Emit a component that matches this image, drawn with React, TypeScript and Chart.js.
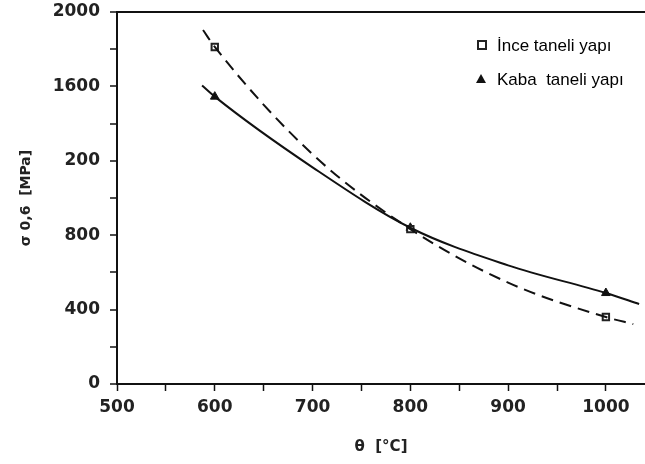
import React, { useEffect, useRef } from "react";
import { Chart, registerables } from "chart.js";

Chart.register(...registerables);

// Measured marker values
const fineX = [600, 800, 1000];
const fineY = [1812, 833, 360];
const coarseX = [600, 800, 1000];
const coarseY = [1545, 840, 489];

// Fitted curves
const fineCurveX = [588, 600, 700, 800, 900, 1000, 1028];
const fineCurveY = [1903, 1812, 1235, 833, 545, 360, 322];
const coarseCurveX = [587, 600, 700, 800, 900, 1000, 1034];
const coarseCurveY = [1605, 1545, 1165, 840, 638, 489, 430];

const yTickValues = [0, 400, 800, 1200, 1600, 2000];
const yTickLabels = ["0", "400", "800", "200", "1600", "2000"];
const xTickValues = [500, 600, 700, 800, 900, 1000];
const xTickLabels = ["500", "600", "700", "800", "900", "1000"];

const legendLabels = ["İnce taneli yapı", "Kaba  taneli yapı"];
const xTitle = "θ  [°C]";
const yTitle = "σ 0,6  [MPa]";

const toPts = (xs: number[], ys: number[]) => xs.map((x, i) => ({ x, y: ys[i] }));

export default function App() {
  const ref = useRef<HTMLCanvasElement | null>(null);

  useEffect(() => {
    document.body.style.margin = "0";
    const canvas = ref.current;
    if (!canvas) return;
    const ink = "#111";

    const legendPlugin = {
      id: "insideLegend",
      afterDatasetsDraw(chart: any) {
        const ctx = chart.ctx;
        ctx.save();
        ctx.fillStyle = "#fff";
        ctx.strokeStyle = "#222";
        ctx.lineWidth = 2;
        ctx.fillRect(478, 41, 8, 8);
        ctx.strokeRect(478, 41, 8, 8);
        ctx.fillStyle = "#111";
        ctx.beginPath();
        ctx.moveTo(481, 74);
        ctx.lineTo(486, 83);
        ctx.lineTo(476, 83);
        ctx.closePath();
        ctx.fill();
        ctx.fillStyle = "#000";
        ctx.font = "17px 'Liberation Sans', Arial, sans-serif";
        ctx.textBaseline = "middle";
        ctx.textAlign = "left";
        ctx.fillText(legendLabels[0], 497, 46);
        ctx.fillText(legendLabels[1], 497, 80);
        ctx.restore();
      },
    };

    const chart = new Chart(canvas, {
      type: "scatter",
      data: {
        datasets: [
          {
            label: legendLabels[0] + " curve",
            data: toPts(fineCurveX, fineCurveY),
            showLine: true,
            borderColor: ink,
            borderWidth: 2,
            borderDash: [12, 7],
            pointRadius: 0,
            cubicInterpolationMode: "monotone",
          },
          {
            label: legendLabels[1] + " curve",
            data: toPts(coarseCurveX, coarseCurveY),
            showLine: true,
            borderColor: ink,
            borderWidth: 2,
            pointRadius: 0,
            cubicInterpolationMode: "monotone",
          },
          {
            label: legendLabels[0],
            data: toPts(fineX, fineY),
            showLine: false,
            pointStyle: "rect",
            pointRadius: 4.5,
            backgroundColor: "#fff",
            borderColor: "#222",
            borderWidth: 2,
          },
          {
            label: legendLabels[1],
            data: toPts(coarseX, coarseY),
            showLine: false,
            pointStyle: "triangle",
            pointRadius: 5,
            backgroundColor: "#111",
            borderColor: "#111",
            borderWidth: 1,
          },
        ],
      },
      options: {
        responsive: false,
        animation: false,
        layout: { autoPadding: false, padding: { top: 12, right: 0, left: 0, bottom: 0 } },
        plugins: { legend: { display: false }, tooltip: { enabled: false } },
        scales: {
          x: {
            type: "linear",
            min: 500,
            max: 1040,
            border: { display: true, color: ink, width: 2 },
            grid: { drawOnChartArea: false, tickColor: ink, tickLength: 7, tickWidth: 1.5 },
            ticks: {
              stepSize: 50,
              includeBounds: false,
              autoSkip: false,
              maxRotation: 0,
              padding: 6,
              color: "#222",
              font: { family: "DejaVu Sans", size: 17, weight: "bold" },
              callback: (v: any) => {
                const i = xTickValues.indexOf(Number(v));
                return i >= 0 ? xTickLabels[i] : "";
              },
            },
            title: {
              display: true,
              text: xTitle,
              color: "#222",
              font: { family: "DejaVu Sans", size: 15, weight: "bold" },
              padding: { top: 0, bottom: 8 },
            },
            afterFit: (s: any) => {
              s.height = 80;
              s.paddingLeft = 0;
              s.paddingRight = 0;
            },
          },
          y: {
            type: "linear",
            min: 0,
            max: 2000,
            border: { display: true, color: ink, width: 2 },
            grid: {
              drawOnChartArea: true,
              color: (c: any) => (c.tick && c.tick.value === 2000 ? ink : "transparent"),
              lineWidth: 2,
              tickColor: ink,
              tickLength: 7,
              tickWidth: 1.5,
            },
            ticks: {
              stepSize: 200,
              autoSkip: false,
              padding: 10,
              color: "#222",
              font: { family: "DejaVu Sans", size: 17, weight: "bold" },
              callback: (v: any) => {
                const i = yTickValues.indexOf(Number(v));
                return i >= 0 ? yTickLabels[i] : "";
              },
            },
            title: {
              display: true,
              text: yTitle,
              color: "#222",
              font: { family: "DejaVu Sans", size: 14, weight: "bold" },
              padding: { top: 18, bottom: 0 },
            },
            afterFit: (s: any) => {
              s.width = 117;
              s.paddingTop = 0;
              s.paddingBottom = 0;
            },
          },
        },
      },
      plugins: [legendPlugin],
    } as any);

    return () => chart.destroy();
  }, []);

  return (
    <div style={{ width: 645, height: 464, background: "#fff" }}>
      <canvas ref={ref} width={645} height={464} />
    </div>
  );
}
